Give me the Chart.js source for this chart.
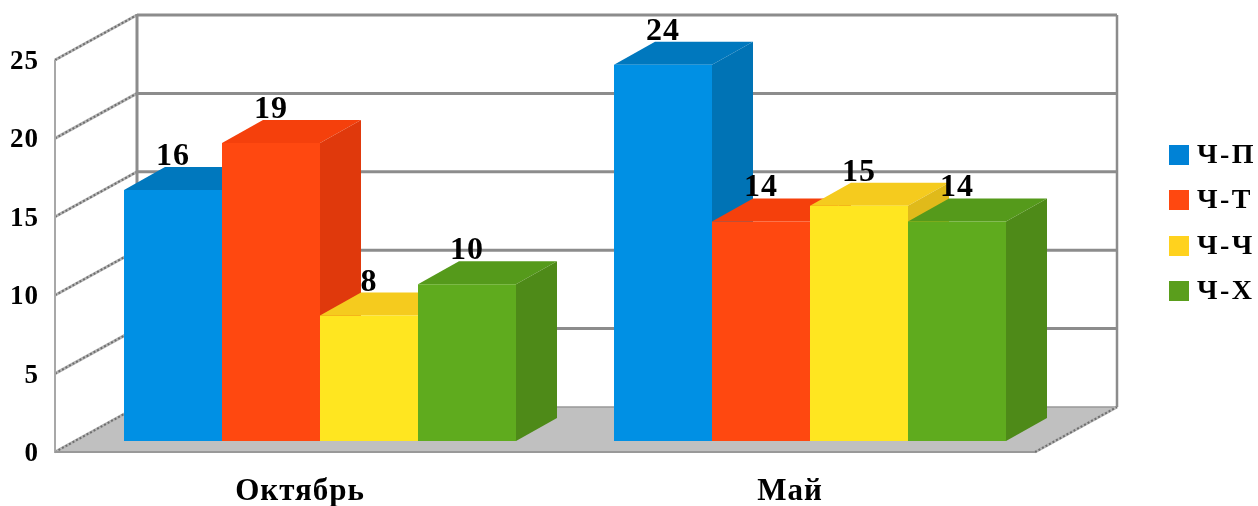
<!DOCTYPE html>
<html>
<head>
<meta charset="utf-8">
<style>html,body{margin:0;padding:0;background:#fff}#w{width:1258px;height:506px}</style>
<script src="https://cdn.jsdelivr.net/npm/chart.js@4"></script>
</head>
<body>
<div id="w"><canvas id="c" width="1258" height="506"></canvas></div>
<script>
const categories = ['Октябрь', 'Май'];
const seriesNames = ['Ч-П', 'Ч-Т', 'Ч-Ч', 'Ч-Х'];
const seriesCP = [16, 24];
const seriesCT = [19, 14];
const seriesCC = [8, 15];
const seriesCX = [10, 14];
const yMax = 25;
const yStep = 5;
const frontColors = ['#0090E4', '#FF4810', '#FFE620', '#5FAB1E'];
const topColors = ['#0078BE', '#F5400C', '#F5CB1E', '#559A1B'];
const sideColors = ['#0073B5', '#E0390C', '#E0BA1A', '#4E8A18'];
const legendColors = ['#0082D6', '#FF4810', '#FFD21E', '#5A9E1C'];
const serif = '"Liberation Serif", serif';

const DX = 41, DY = 23;         // bar depth
const FX = 20, FY = 11;         // bar plane to front of floor
const BX = 62, BY = 34;         // bar plane to back wall

function poly(ctx, pts, fill) {
  ctx.beginPath();
  pts.forEach((p, i) => i ? ctx.lineTo(p[0], p[1]) : ctx.moveTo(p[0], p[1]));
  ctx.closePath();
  ctx.fillStyle = fill;
  ctx.fill();
}
function seg(ctx, x1, y1, x2, y2, color, w, dash) {
  ctx.beginPath();
  ctx.setLineDash(dash || []);
  ctx.moveTo(x1, y1);
  ctx.lineTo(x2, y2);
  ctx.strokeStyle = color;
  ctx.lineWidth = w;
  ctx.stroke();
  ctx.setLineDash([]);
}

const box3d = {
  id: 'box3d',
  beforeDraw(chart) {
    const ctx = chart.ctx, sx = chart.scales.x, sy = chart.scales.y;
    const L = sx.left, R = sx.right, y0 = sy.getPixelForValue(0);
    ctx.save();
    poly(ctx, [[L - FX, y0 + FY], [R - FX, y0 + FY], [R + BX, y0 - BY], [L + BX, y0 - BY]], '#C0C0C0');
    for (let v = 0; v <= yMax; v += yStep) {
      const y = sy.getPixelForValue(v);
      seg(ctx, L - FX, y + FY, L + BX, y - BY, '#B5B5B5', 3);
      seg(ctx, L - FX, y + FY, L + BX, y - BY, '#6E6E6E', 2, [2, 2]);
      if (v > 0) seg(ctx, L + BX, y - BY, R + BX, y - BY, '#8C8C8C', 3);
    }
    seg(ctx, L + BX, y0 - BY, R + BX, y0 - BY, '#999', 1.5);
    seg(ctx, R - FX, y0 + FY, R + BX, y0 - BY, '#B5B5B5', 3);
    seg(ctx, R - FX, y0 + FY, R + BX, y0 - BY, '#6E6E6E', 2, [2, 2]);
    const yT = sy.getPixelForValue(yMax);
    seg(ctx, L - FX, y0 + FY + 1, L - FX, yT + FY, '#A8A8A8', 2);
    seg(ctx, L + BX, y0 - BY, L + BX, yT - BY, '#8C8C8C', 3);
    seg(ctx, R + BX, y0 - BY, R + BX, yT - BY, '#8C8C8C', 2.5);
    seg(ctx, L - FX, y0 + FY, R - FX, y0 + FY, '#999', 2);
    ctx.restore();
    ctx.letterSpacing = '1px';
  },
  beforeDatasetsDraw(chart) {
    // paint series left to right, each with its depth faces behind its fronts
    const ctx = chart.ctx;
    chart.data.datasets.forEach((ds, i) => {
      const meta = chart.getDatasetMeta(i);
      ctx.save();
      meta.data.forEach(bar => {
        const p = bar.getProps(['x', 'y', 'base', 'width'], true);
        const l = p.x - p.width / 2, r = p.x + p.width / 2;
        poly(ctx, [[l, p.y], [r, p.y], [r + DX, p.y - DY], [l + DX, p.y - DY]], topColors[i]);
        poly(ctx, [[r, p.y], [r + DX, p.y - DY], [r + DX, p.base - DY], [r, p.base]], sideColors[i]);
      });
      ctx.restore();
      meta.controller.draw();
    });
    return false;
  },
  afterDraw(chart) {
    const ctx = chart.ctx;
    ctx.save();
    ctx.fillStyle = '#000';
    ctx.font = 'bold 32px ' + serif;
    ctx.textAlign = 'center';
    ctx.textBaseline = 'alphabetic';
    chart.data.datasets.forEach((ds, i) => {
      chart.getDatasetMeta(i).data.forEach((bar, j) => {
        const p = bar.getProps(['x', 'y'], true);
        ctx.fillText(String(ds.data[j]), p.x, p.y - DY - 2);
      });
    });
    // legend
    ctx.font = 'bold 28px ' + serif;
    ctx.textAlign = 'left';
    ctx.textBaseline = 'middle';
    const ys = [155, 200, 246, 291];
    seriesNames.forEach((n, i) => {
      ctx.fillStyle = legendColors[i];
      ctx.fillRect(1169, ys[i] - 10, 20, 20);
      ctx.fillStyle = '#000';
      ctx.letterSpacing = '2.5px';
      ctx.fillText(n, 1197, ys[i] + 1);
    });
    ctx.restore();
  }
};

const sets = [seriesCP, seriesCT, seriesCC, seriesCX];
new Chart(document.getElementById('c'), {
  type: 'bar',
  data: {
    labels: categories,
    datasets: sets.map((d, i) => ({
      label: seriesNames[i],
      data: d,
      backgroundColor: frontColors[i],
      borderWidth: 0,
      categoryPercentage: 0.8,
      barPercentage: 1
    }))
  },
  options: {
    responsive: false,
    animation: false,
    events: [],
    layout: { padding: { left: 0, right: 203, top: 49, bottom: 0 } },
    plugins: { legend: { display: false }, tooltip: { enabled: false }, title: { display: false } },
    scales: {
      x: {
        grid: { display: false, drawTicks: false },
        border: { display: false },
        ticks: { color: '#000', font: { family: serif, weight: 'bold', size: 31 }, labelOffset: -20, padding: 32, maxRotation: 0 },
        afterFit(s) { s.height = 65; s.paddingLeft = 0; s.paddingRight = 0; }
      },
      y: {
        min: 0,
        max: yMax,
        grid: { display: false, drawTicks: false },
        border: { display: false },
        ticks: { stepSize: yStep, color: '#000', font: { family: serif, weight: 'bold', size: 27 }, labelOffset: 13, padding: 36 },
        afterFit(s) { s.width = 75; s.paddingTop = 0; s.paddingBottom = 0; }
      }
    }
  },
  plugins: [box3d]
});
</script>
</body>
</html>
